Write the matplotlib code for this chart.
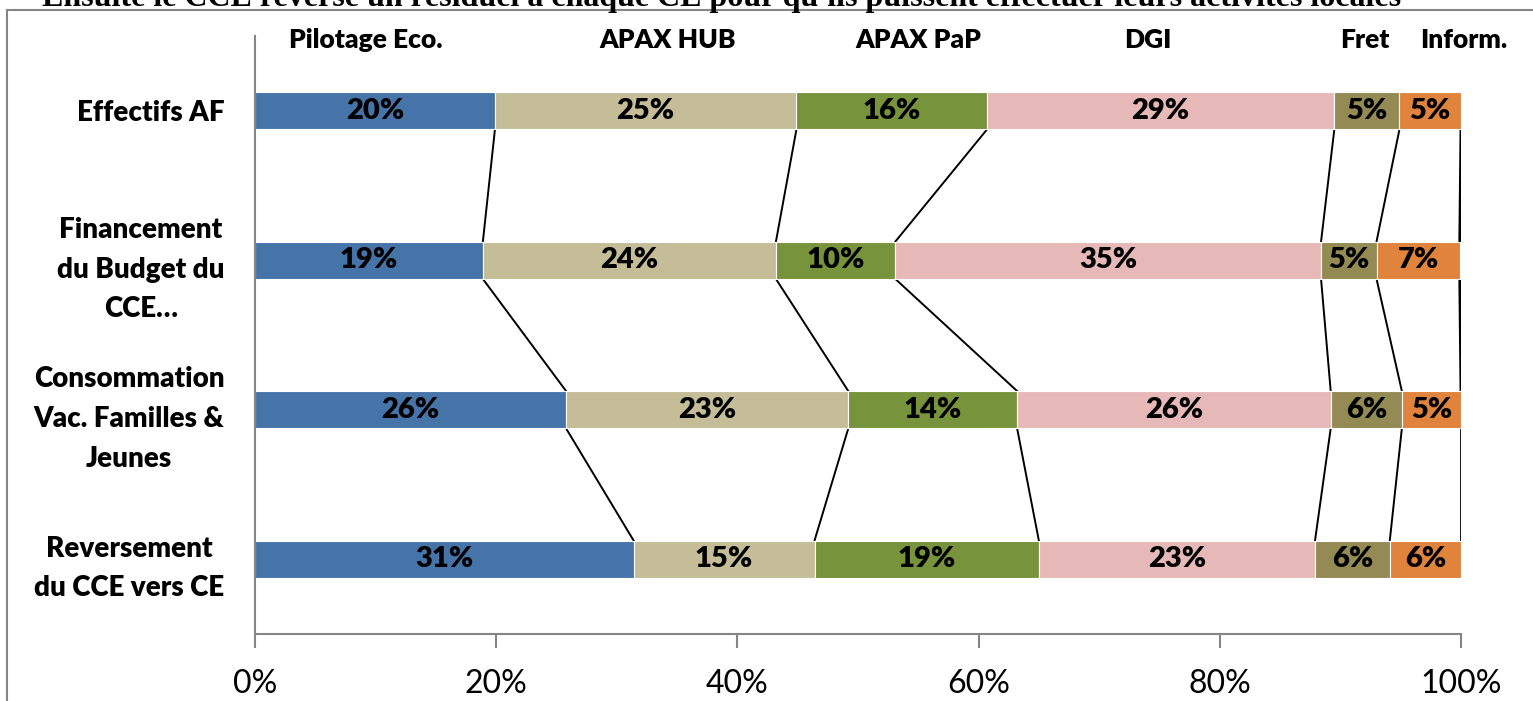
import numpy as np
import matplotlib
matplotlib.use('Agg')
import matplotlib.pyplot as plt

categories = ['Effectifs AF',
              'Financement\ndu Budget du\nCCE…',
              'Consommation\nVac. Familles &\nJeunes',
              'Reversement\ndu CCE vers CE']
series = ['Pilotage Eco.', 'APAX HUB', 'APAX PaP', 'DGI', 'Fret', 'Inform.']
pilotage = [19.9, 18.9, 25.8, 31.4]
apax_hub = [25.0, 24.3, 23.4, 15.0]
apax_pap = [15.8, 9.9, 14.0, 18.6]
dgi = [28.8, 35.3, 26.0, 22.9]
fret = [5.4, 4.6, 5.9, 6.2]
inform = [5.1, 6.9, 4.9, 5.9]
colors = ['#4674A9', '#C4BD97', '#77933C', '#E6B9B8', '#948A54', '#E0843D']
header_x = [0.092, 0.342, 0.550, 0.740, 0.920, 1.002]

plt.rcParams['font.family'] = ['Lato', 'DejaVu Sans']

data = np.array([pilotage, apax_hub, apax_pap, dgi, fret, inform])
n = len(categories)
y = np.arange(n)
h = 0.25

fig = plt.figure(figsize=(15.33, 7.01), dpi=100)
ax = fig.add_axes([0.1663, 0.0956, 0.7867, 0.853])

left = np.zeros(n)
for k in range(len(series)):
    ax.barh(y, data[k], left=left, height=h, color=colors[k],
            edgecolor='white', linewidth=0.8, zorder=2)
    for i in range(n):
        ax.text(left[i] + data[k][i] / 2, y[i], f'{data[k][i]:.0f}%',
                ha='center', va='center', fontsize=21, fontweight='heavy', zorder=3)
    left = left + data[k]

# series lines between bars
cum = np.cumsum(data, axis=0)
for i in range(n - 1):
    for k in range(len(series)):
        ax.plot([cum[k][i], cum[k][i + 1]], [y[i] + h / 2, y[i + 1] - h / 2],
                color='black', lw=1.4 if k < len(series) - 1 else 2, zorder=1)

ax.set_xlim(0, 100)
ax.set_ylim(n - 0.5, -0.5)
ax.set_yticks(y)
ax.set_yticklabels(categories, fontsize=20, fontweight='heavy', multialignment='center',
                   linespacing=1.65)
ax.set_xticks([0, 20, 40, 60, 80, 100])
ax.set_xticklabels(['0%', '20%', '40%', '60%', '80%', '100%'], fontsize=23)
ax.tick_params(axis='y', length=0, pad=22)
ax.tick_params(axis='x', length=10, width=1.5, color='#868686', pad=15)
for s in ['top', 'right']:
    ax.spines[s].set_visible(False)
for s in ['left', 'bottom']:
    ax.spines[s].set_color('#868686')
    ax.spines[s].set_linewidth(1.5)

for name, xp in zip(series, header_x):
    ax.text(xp, 0.993, name, transform=ax.transAxes, ha='center', va='center',
            fontsize=19, fontweight='heavy')

# outer frame lines
fig.add_artist(plt.Line2D([7 / 1533, 1], [1 - 10 / 701] * 2, color='#868686', lw=1.5))
fig.add_artist(plt.Line2D([7 / 1533] * 2, [0, 1 - 10 / 701], color='#868686', lw=1.5))

# cut-off sentence at the very top
fig.text(0.471, 1 - 6 / 701,
         "Ensuite le CCE reverse un résiduel à chaque CE pour qu'ils puissent effectuer leurs activités locales",
         ha='center', va='baseline', fontsize=23, fontweight='bold', family='Liberation Serif')

fig.savefig('out.png', dpi=100)
